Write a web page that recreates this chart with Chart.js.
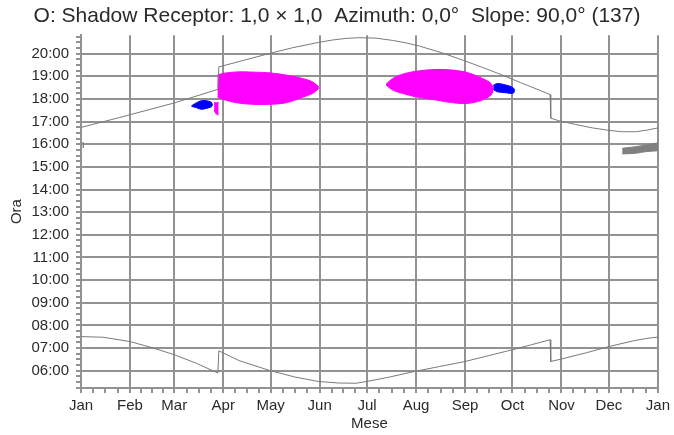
<!DOCTYPE html>
<html>
<head>
<meta charset="utf-8">
<script src="https://cdn.jsdelivr.net/npm/chart.js@4"></script>
<style>
  body { margin: 0; background: #fff; }
  canvas { display: block; }
</style>
</head>
<body>
<canvas id="chart" width="674" height="435"></canvas>
<script>
// x is day of year (0 = 1 Jan), y is clock time in hours
const monthNames = ["Jan", "Feb", "Mar", "Apr", "May", "Jun", "Jul", "Aug", "Sep", "Oct", "Nov", "Dec", "Jan"];
const monthStarts = [0, 31, 59, 90, 120, 151, 181, 212, 243, 273, 304, 334, 365];

const sunsetDays = [0, 24.6, 31, 59, 86.6, 87.2, 103.4, 117.5, 134, 150.9, 159.3, 167.8, 176, 186.7, 197.2, 205.7, 214.1, 228, 241.5, 254, 266.6, 278, 289.8, 296.8, 297.2, 302.5, 313, 323.5, 334, 342, 350.9, 358, 365];
const sunsetHours = [16.74, 17.18, 17.3, 17.82, 18.42, 19.41, 19.71, 19.97, 20.26, 20.5, 20.6, 20.67, 20.7, 20.68, 20.58, 20.47, 20.33, 20.04, 19.71, 19.39, 19.05, 18.72, 18.39, 18.19, 17.15, 17.03, 16.87, 16.72, 16.61, 16.55, 16.55, 16.62, 16.72];

const sunriseDays = [0, 14, 31, 45, 59, 73, 86.6, 87.2, 100, 119, 135, 150, 163, 174, 181, 195, 211, 227, 243, 258, 273, 285, 296.8, 297.2, 304, 320, 334, 350, 358, 365];
const sunriseHours = [7.51, 7.48, 7.29, 7.02, 6.71, 6.33, 5.9, 6.88, 6.45, 6.02, 5.73, 5.53, 5.46, 5.45, 5.53, 5.72, 5.97, 6.19, 6.41, 6.67, 6.93, 7.15, 7.37, 6.41, 6.52, 6.8, 7.07, 7.33, 7.43, 7.49];

// shadow periods: start / end time per day
const springBigDays = [86.3, 89.7, 98.3, 108.6, 119.3, 129.9, 140.2, 146.5, 150.5];
const springBigStart = [18.08, 17.98, 17.83, 17.76, 17.76, 17.83, 18.07, 18.24, 18.46];
const springBigEnd = [19.05, 19.12, 19.19, 19.18, 19.15, 19.05, 18.9, 18.75, 18.53];

const summerBigDays = [193.0, 197.2, 203.5, 212.0, 224.6, 235.1, 244.6, 254.0, 259.4, 260.8];
const summerBigStart = [18.61, 18.39, 18.24, 18.09, 17.95, 17.83, 17.8, 17.95, 18.17, 18.36];
const summerBigEnd = [18.65, 18.9, 19.09, 19.22, 19.3, 19.27, 19.16, 18.9, 18.68, 18.46];

const springBlueDays = [69.9, 73.1, 76.2, 79.3, 82.5, 83.2];
const springBlueStart = [17.67, 17.61, 17.54, 17.58, 17.65, 17.71];
const springBlueEnd = [17.69, 17.83, 17.92, 17.92, 17.85, 17.73];

const springSliverDays = [84.2, 85.6, 87.1];
const springSliverStart = [17.51, 17.33, 17.29];
const springSliverEnd = [17.83, 17.83, 17.84];

const autumnBlueDays = [260.8, 263.5, 268.8, 273.0, 274.5];
const autumnBlueStart = [18.42, 18.31, 18.27, 18.24, 18.32];
const autumnBlueEnd = [18.6, 18.68, 18.61, 18.51, 18.38];

const winterGreyDays = [342.4, 350.9, 357.2, 365];
const winterGreyStart = [15.57, 15.6, 15.67, 15.71];
const winterGreyEnd = [15.82, 15.89, 15.96, 16.06];

const januaryGreyDays = [0.9, 1.9];
const januaryGreyStart = [15.86, 15.86];
const januaryGreyEnd = [16.06, 16.06];

const GRID = "#929292";
const CURVE = "#7a7a7a";
const TEXT = "#2a2a2a";
const FONT = "'Liberation Sans', Arial, sans-serif";

const toPoints = (days, hours) => days.map((d, i) => ({ x: d, y: hours[i] }));

const lineSet = (days, hours, color, tension) => ({
  data: toPoints(days, hours),
  borderColor: color,
  borderWidth: 1,
  pointRadius: 0,
  tension: tension,
  fill: false,
});

const shadowSets = (days, start, end, color) => [
  lineSet(days, start, color, 0.35),
  { ...lineSet(days, end, color, 0.35), fill: "-1", backgroundColor: color },
];

const datasets = [
  lineSet(sunsetDays, sunsetHours, CURVE, 0),
  lineSet(sunriseDays, sunriseHours, CURVE, 0),
  ...shadowSets(springBigDays, springBigStart, springBigEnd, "#ff00ff"),
  ...shadowSets(summerBigDays, summerBigStart, summerBigEnd, "#ff00ff"),
  ...shadowSets(springSliverDays, springSliverStart, springSliverEnd, "#ff00ff"),
  ...shadowSets(springBlueDays, springBlueStart, springBlueEnd, "#0000ff"),
  ...shadowSets(autumnBlueDays, autumnBlueStart, autumnBlueEnd, "#0000ff"),
  ...shadowSets(winterGreyDays, winterGreyStart, winterGreyEnd, "#808080"),
  ...shadowSets(januaryGreyDays, januaryGreyStart, januaryGreyEnd, "#808080"),
];

// major ticks on month starts, three minor ticks inside each month
const xTicks = [];
monthStarts.forEach((d, i) => {
  xTicks.push(d);
  if (i < monthStarts.length - 1) {
    const len = monthStarts[i + 1] - d;
    for (let k = 1; k < 4; k++) xTicks.push(d + (len * k) / 4);
  }
});
const yTicks = [];
for (let h = 5.25; h <= 20.8; h += 0.25) yTicks.push(Math.round(h * 100) / 100);

const isMonth = (v) => monthStarts.indexOf(v) >= 0;
const pad2 = (n) => (n < 10 ? "0" + n : "" + n);

new Chart(document.getElementById("chart"), {
  type: "scatter",
  data: { datasets },
  options: {
    responsive: false,
    animation: false,
    showLine: true,
    layout: { padding: 0 },
    plugins: {
      legend: { display: false },
      tooltip: { enabled: false },
      title: {
        display: true,
        text: "O: Shadow Receptor: 1,0 \u00d7 1,0  Azimuth: 0,0\u00b0  Slope: 90,0\u00b0 (137)",
        color: TEXT,
        font: { family: FONT, size: 21, weight: "normal" },
        padding: { top: 4, bottom: 6 },
      },
    },
    scales: {
      x: {
        type: "linear",
        min: 0,
        max: 365,
        afterBuildTicks: (scale) => {
          scale.ticks = xTicks.map((v) => ({ value: v }));
        },
        afterFit: (scale) => {
          scale.height = 47;
        },
        ticks: {
          autoSkip: false,
          maxRotation: 0,
          padding: 4,
          color: TEXT,
          font: { family: FONT, size: 15 },
          callback: (v) => (isMonth(v) ? monthNames[monthStarts.indexOf(v)] : ""),
        },
        grid: {
          color: (ctx) => (ctx.tick && isMonth(ctx.tick.value) ? GRID : "rgba(0,0,0,0)"),
          tickColor: GRID,
          tickLength: 5,
          lineWidth: 2,
        },
        border: { color: GRID, width: 2 },
        title: {
          display: true,
          text: "Mese",
          color: TEXT,
          font: { family: FONT, size: 15 },
          padding: { top: 0, bottom: 2 },
        },
      },
      y: {
        type: "linear",
        min: 5.24,
        max: 20.81,
        afterBuildTicks: (scale) => {
          scale.ticks = yTicks.map((v) => ({ value: v }));
        },
        afterFit: (scale) => {
          scale.width = 81;
        },
        ticks: {
          autoSkip: false,
          padding: 7,
          color: TEXT,
          font: { family: FONT, size: 15 },
          callback: (v) => (Number.isInteger(v) ? pad2(v) + ":00" : ""),
        },
        grid: {
          color: (ctx) => (ctx.tick && Number.isInteger(ctx.tick.value) ? GRID : "rgba(0,0,0,0)"),
          tickColor: GRID,
          tickLength: 5,
          lineWidth: 2,
        },
        border: { color: GRID, width: 2 },
        title: {
          display: true,
          text: "Ora",
          color: TEXT,
          font: { family: FONT, size: 15 },
          padding: { top: 8, bottom: 0 },
        },
      },
      // empty right margin so the plot ends where the reference does
      yRight: {
        position: "right",
        display: true,
        grid: { display: false },
        border: { display: false },
        ticks: { display: false },
        afterFit: (scale) => {
          scale.width = 14;
        },
      },
    },
  },
});
</script>
</body>
</html>
